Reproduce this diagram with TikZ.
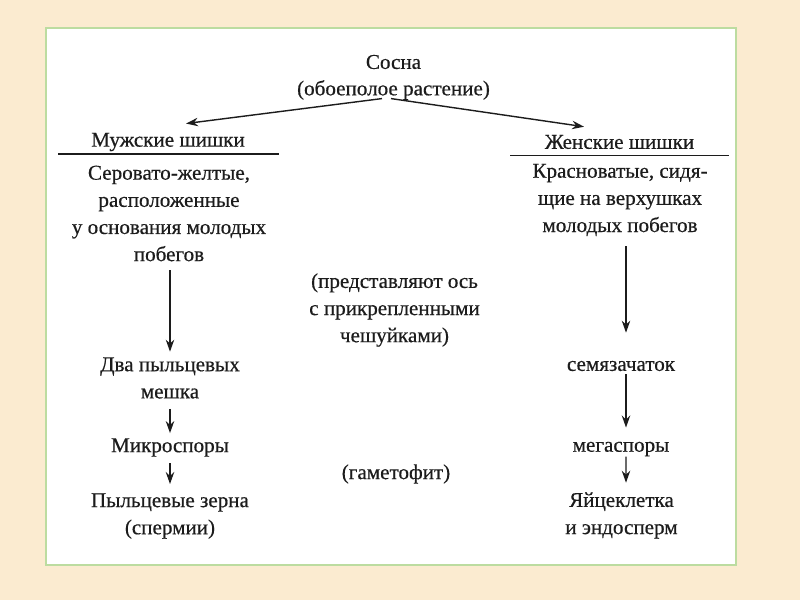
\documentclass[tikz,border=0pt]{standalone}
\usepackage{fontspec}
\setmainfont[FakeBold=0.5]{Liberation Serif}
\usetikzlibrary{arrows.meta,calc}
\definecolor{bgbeige}{HTML}{FBEBD0}
\definecolor{panelgreen}{HTML}{BCDCA0}
\definecolor{ink}{HTML}{1C1C1C}
\begin{document}
\begin{tikzpicture}[x=0.025cm,y=-0.025cm,
  txt/.style={font=\fontsize{15}{19.3}\selectfont, align=center, inner sep=0pt, text=ink},
  arr/.style={draw=ink, line width=1pt, -{Stealth[length=8.5pt,width=6pt]}},
  rule/.style={draw=ink, line width=0.9pt}]
% background and panel
\fill[bgbeige] (0,0) rectangle (800,600);
\useasboundingbox (0,0) rectangle (800,600);
\draw[panelgreen, line width=1.6pt, fill=white] (46,28) rectangle (736,565);

% nodes
\node[txt] (sosna)  at (393.5,62) {Сосна};
\node[txt] (sosnab) at (393.5,90) {(обоеполое растение)};

\node[txt] (male)   at (168,142) {Мужские шишки};
\node[txt] (maled)  at (169,213.5) {Серовато-желтые,\\расположенные\\у основания молодых\\побегов};

\node[txt] (female)  at (619.5,142) {Женские шишки};
\node[txt] (femaled) at (620,200) {Красноватые, сидя-\\щие на верхушках\\молодых побегов};

\node[txt] (axis) at (394.5,310) {(представляют ось\\с прикрепленными\\чешуйками)};
\node[txt] (gamet) at (396,474) {(гаметофит)};

\node[txt] (pollen) at (170,378) {Два пыльцевых\\мешка};
\node[txt] (micro)  at (170,447.5) {Микроспоры};
\node[txt] (grains) at (170,516) {Пыльцевые зерна\\(спермии)};

\node[txt] (semya) at (621,366) {семязачаток};
\node[txt] (mega)  at (621,449) {мегаспоры};
\node[txt] (egg)   at (621.5,515.5) {Яйцеклетка\\и эндосперм};

% rules under headings
\draw[rule] ($(male.south)+(-110,2.5)$) -- ($(male.south)+(111,2.5)$);
\draw[rule] ($(female.south)+(-109.5,6)$) -- ($(female.south)+(109.5,6)$);

% arrows
\draw[arr] ($(sosnab.south)+(-11.5,-1.5)$) -- ($(male.north)+(18,-9)$);
\draw[arr] ($(sosnab.south)+(-2.5,-1.5)$) -- ($(female.north)+(-35.5,-8)$);

\draw[arr] ($(maled.south)+(1,8.5)$) -- ($(pollen.north)+(0,-5.5)$);
\draw[arr] ($(pollen.south)+(0,10)$) -- ($(micro.north)+(0,-5)$);
\draw[arr] ($(micro.south)+(0,6.5)$) -- ($(grains.north)+(0,-9)$);

\draw[arr] ($(femaled.south)+(6,10)$) -- ($(semya.north)+(5,-28)$);
\draw[arr] ($(semya.south)+(5,3)$) -- ($(mega.north)+(5,-14)$);
\draw[arr] ($(mega.south)+(5,0)$) -- ($(egg.north)+(4.5,-9.5)$);
\end{tikzpicture}
\end{document}
